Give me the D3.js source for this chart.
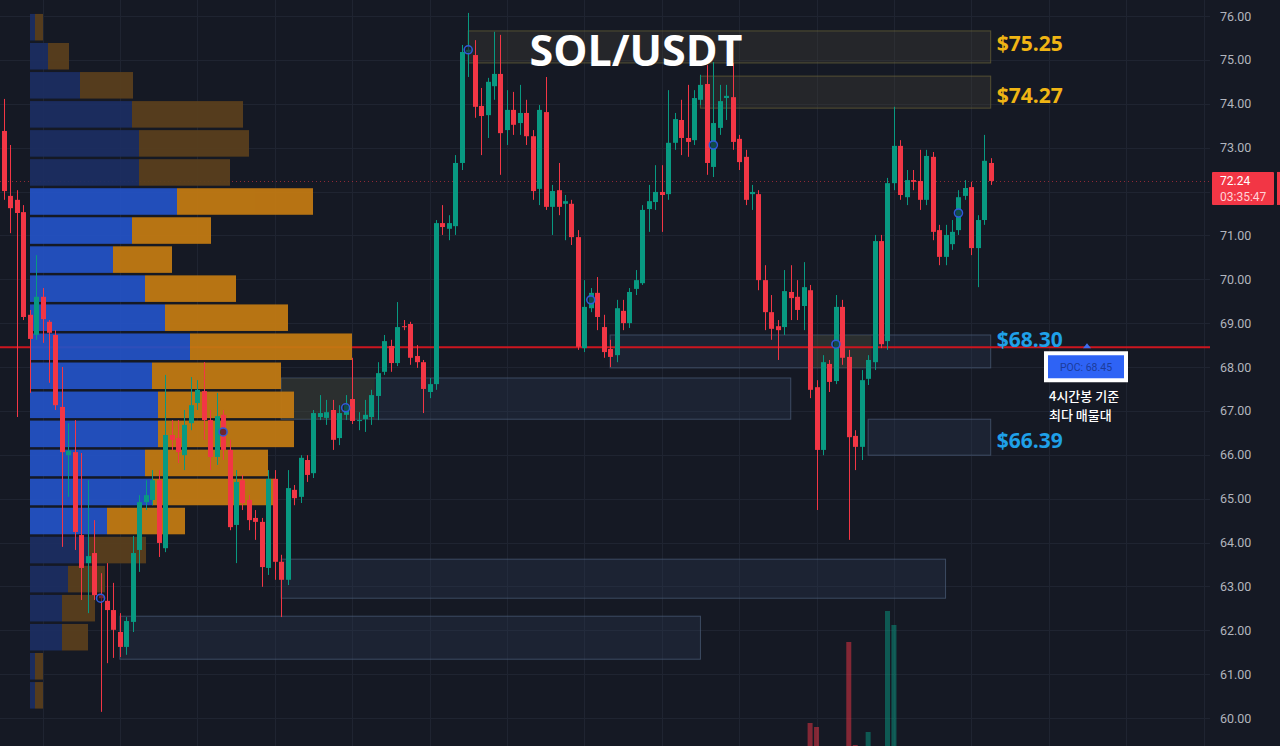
<!DOCTYPE html>
<html>
<head>
<meta charset="utf-8">
<script src="https://cdn.jsdelivr.net/npm/d3@7"></script>
<style>
html, body { margin: 0; padding: 0; background: #151924; overflow: hidden; }
svg { display: block; }
</style>
</head>
<body>
<svg width="1280" height="746"></svg>
<script>
// 4h SOL/USDT candles, oldest first
var opens = [73.38,71.90,71.81,71.53,69.19,68.73,69.60,69.03,68.73,67.09,65.99,66.06,64.17,63.53,63.76,62.80,62.67,62.46,61.96,61.62,
  62.19,63.83,64.92,64.97,65.42,63.87,66.45,66.38,65.99,66.72,67.18,67.45,66.79,65.95,66.91,66.11,64.40,65.42,64.97,64.56,
  64.47,63.42,65.45,63.56,63.15,65.20,65.04,65.88,65.58,66.86,66.84,67.02,66.38,66.91,67.27,66.77,66.81,66.86,67.34,67.89,
  68.48,68.09,68.93,68.98,68.25,68.11,67.43,67.61,71.28,71.15,71.21,72.65,75.18,75.11,73.95,73.74,74.40,74.68,73.40,73.86,
  73.56,73.79,73.26,72.06,73.81,71.65,72.03,71.72,71.72,70.96,68.43,69.34,69.69,68.91,68.41,68.27,69.28,69.00,69.78,69.91,
  71.60,71.76,71.99,71.94,73.11,73.63,73.22,73.17,74.09,74.45,72.56,73.45,74.13,74.15,73.20,72.79,71.94,71.94,69.98,69.25,
  68.93,68.91,69.71,69.60,69.39,69.75,67.54,66.11,68.07,67.68,69.37,68.23,66.43,66.18,67.73,68.11,70.87,68.59,72.19,73.04,
  71.87,72.26,72.24,71.81,72.79,71.12,70.51,70.80,71.12,71.90,72.10,70.71,71.35,72.65];
var highs = [74.11,73.06,72.03,71.69,69.30,70.55,69.80,69.07,68.84,68.00,66.72,66.79,66.04,65.42,64.51,63.30,63.53,63.08,62.39,62.30,
  64.15,65.08,65.42,65.65,65.65,67.82,66.79,66.79,67.02,67.77,67.70,68.11,67.02,67.41,67.02,66.34,65.65,65.54,65.08,64.74,
  64.56,65.65,65.65,63.72,65.65,65.31,65.99,65.99,67.02,67.36,67.25,67.25,67.13,67.36,68.21,66.97,67.25,67.48,68.11,68.73,
  68.62,69.48,69.07,69.03,68.50,68.16,67.75,71.35,71.69,71.46,72.83,75.34,76.07,75.45,74.36,74.59,75.64,75.57,74.31,74.27,
  74.43,74.09,73.40,73.97,74.61,72.15,72.65,71.92,71.81,71.12,69.98,69.80,70.05,69.19,68.62,69.53,69.53,69.80,70.21,71.69,
  72.15,72.60,72.60,74.31,73.79,74.09,74.43,74.31,74.66,74.88,74.95,74.43,74.43,74.93,73.29,72.95,72.15,72.03,70.32,69.64,
  69.07,70.21,70.32,69.98,70.39,69.87,67.70,68.27,68.16,69.64,69.53,68.39,66.56,67.93,68.27,71.01,71.01,72.31,73.93,73.17,
  72.49,72.49,72.95,72.95,72.90,71.24,71.24,71.35,72.03,72.26,72.22,71.46,73.29,72.76];
var lows = [71.81,71.05,66.86,69.07,67.41,68.62,68.55,67.64,67.02,63.90,65.04,63.83,62.69,62.39,62.69,60.14,61.25,61.37,61.39,61.44,
  61.96,63.33,64.74,64.85,63.67,63.78,66.11,65.81,65.65,66.56,67.02,66.34,65.65,65.77,65.88,64.28,63.53,64.74,64.28,64.06,
  62.99,63.26,63.15,62.30,63.03,64.85,64.90,65.38,65.47,66.79,66.68,66.11,66.22,66.79,66.70,66.56,66.52,66.68,66.79,67.82,
  67.89,68.02,68.84,68.05,67.98,66.95,67.29,67.48,71.01,70.89,71.01,72.49,74.61,73.68,72.83,73.22,74.09,72.38,73.06,73.29,
  73.29,73.06,71.81,71.69,71.58,71.01,71.46,70.89,70.78,68.39,68.34,69.25,68.84,68.21,68.00,68.11,68.84,68.89,69.64,69.87,
  71.08,71.58,71.08,71.81,72.95,72.83,72.79,73.06,73.97,72.38,72.33,73.29,73.63,72.95,72.49,71.69,71.58,69.75,68.84,68.62,
  68.16,68.73,69.07,69.07,68.84,67.29,64.74,65.99,67.43,67.61,68.05,64.06,65.65,65.88,67.59,67.93,68.43,68.39,72.03,71.81,
  71.69,72.03,71.58,71.69,70.89,70.32,70.32,70.67,71.01,71.81,70.55,69.82,71.24,72.15];
var closes = [72.01,71.62,71.51,69.14,68.64,69.60,69.09,68.78,67.13,66.06,66.09,64.24,63.42,63.69,62.80,62.73,62.46,62.01,61.62,62.21,
  63.76,64.92,65.08,65.42,63.99,66.45,66.34,66.06,66.68,67.13,67.48,66.79,65.95,66.88,66.11,64.35,65.38,64.90,64.51,64.47,
  63.44,65.45,63.56,63.15,65.24,65.01,65.93,65.54,66.95,66.95,66.97,66.34,66.95,67.13,66.77,66.79,66.91,67.36,67.86,68.59,
  68.09,68.91,68.91,68.21,68.11,67.50,67.61,71.28,71.19,71.28,72.65,75.18,75.23,73.93,73.72,74.50,74.68,73.33,73.86,73.52,
  73.79,73.26,72.01,73.86,71.65,72.01,71.65,71.78,70.96,68.46,69.37,69.69,69.14,68.34,68.23,69.34,69.00,69.71,69.98,71.58,
  71.78,71.99,71.92,73.11,73.65,73.22,73.13,74.13,74.43,72.65,73.56,74.06,74.18,73.13,72.67,71.81,71.99,69.98,69.25,68.87,
  68.84,69.73,69.57,69.30,69.82,67.48,66.11,68.11,67.66,69.37,68.21,66.40,66.18,67.70,68.16,70.87,68.52,72.19,73.04,71.92,
  72.26,72.22,71.81,72.81,71.08,70.51,71.01,71.08,71.87,72.08,70.71,71.35,72.70,72.24];

// visible volume spikes (K SOL)
var volIndex = [125, 126, 131, 132, 134, 137, 138];
var volValue = [230, 190, 1040, 10, 140, 1350, 1210];

// volume profile, rows from top price bin to bottom (K SOL)
var profileTop = 76.07, profileBottom = 60.18;
var profileUp   = [5,18,50,102,109,109,147,102,83,115,135,160,122,128,128,115,122,77,58,38,32,32,5,5];
var profileDown = [8,21,53,111,110,91,136,79,59,91,123,162,129,136,136,123,123,78,58,37,33,26,8,8];
var valueAreaRows = [6, 17];

// supply / demand zones
var zoneFrom = [72, 108, 94, 43, 134, 43, 18];
var zoneTo   = [153, 153, 153, 122, 153, 146, 108];
var zoneHigh = [75.66, 74.63, 68.73, 67.75, 66.81, 63.62, 62.32];
var zoneLow  = [74.93, 73.90, 67.98, 66.81, 65.99, 62.73, 61.34];
var zoneKind = ["supply", "supply", "demand", "demand", "demand", "demand", "demand"];
var tintFrom = [43, 125.5], tintTo = [57.5, 134.5], tintHigh = [67.75, 68.73], tintLow = [66.81, 67.98];

var zoneLabels = ["$75.25", "$74.27", "$68.30", "$66.39"];
var zoneLabelOf = [0, 1, 2, 4];

var markerIndex = [15, 34, 53, 72, 91, 110, 129, 148];
var markerPrice = [62.73, 66.52, 67.07, 75.23, 69.53, 73.06, 68.52, 71.51];

var poc = 68.45, lastPrice = 72.24, countdown = "03:35:47";
var priceTicks = d3.range(60, 77, 1);

var svg = d3.select("svg"),
    width = +svg.attr("width"),
    height = +svg.attr("height"),
    plotRight = 1210;

var up = "#089981", down = "#f23645";

var x = d3.scaleLinear().domain([0, 153]).range([3.8, 990.7]);
var y = d3.scaleLinear().domain([60, 76]).range([718, 16]);
var vy = d3.scaleLinear().domain([0, 1350]).range([height, 611]);
var px = d3.scaleLinear().domain([0, 322]).range([30, 352]);

svg.append("rect").attr("width", width).attr("height", height).attr("fill", "#151924");

// grid
var grid = svg.append("g").attr("stroke", "#1f2431").attr("stroke-width", 1);
grid.selectAll("line.v")
    .data(d3.range(6, 190, 12))
    .enter().append("line")
    .attr("x1", function(d) { return Math.round(x(d)) + 0.5; })
    .attr("x2", function(d) { return Math.round(x(d)) + 0.5; })
    .attr("y1", 0).attr("y2", height);
grid.selectAll("line.h")
    .data(priceTicks)
    .enter().append("line")
    .attr("x1", 0).attr("x2", plotRight)
    .attr("y1", function(d) { return Math.round(y(d)) + 0.5; })
    .attr("y2", function(d) { return Math.round(y(d)) + 0.5; });

// zones
var zones = svg.append("g");
zoneKind.forEach(function(k, i) {
  zones.append("rect")
    .attr("x", x(zoneFrom[i]))
    .attr("y", y(zoneHigh[i]))
    .attr("width", x(zoneTo[i]) - x(zoneFrom[i]))
    .attr("height", y(zoneLow[i]) - y(zoneHigh[i]))
    .attr("fill", k == "supply" ? "rgba(70,68,56,0.32)" : "rgba(42,58,84,0.32)")
    .attr("stroke", k == "supply" ? "rgba(120,112,58,0.6)" : "rgba(80,98,128,0.65)")
    .attr("stroke-width", 1);
});
tintFrom.forEach(function(f, i) {
  zones.append("rect")
    .attr("x", x(f)).attr("y", y(tintHigh[i]))
    .attr("width", x(tintTo[i]) - x(f))
    .attr("height", y(tintLow[i]) - y(tintHigh[i]))
    .attr("fill", "rgba(80,76,40,0.3)");
});

// last price dotted line
svg.append("line")
    .attr("x1", 0).attr("x2", plotRight)
    .attr("y1", Math.round(y(lastPrice)) + 0.5).attr("y2", Math.round(y(lastPrice)) + 0.5)
    .attr("stroke", down).attr("stroke-opacity", 0.55)
    .attr("stroke-dasharray", "1,3");

// POC line
svg.append("line")
    .attr("x1", 0).attr("x2", plotRight)
    .attr("y1", y(poc)).attr("y2", y(poc))
    .attr("stroke", "#cc161f").attr("stroke-width", 2);

// volume profile
var rowStep = (profileTop - profileBottom) / profileUp.length;
var prof = svg.append("g").attr("opacity", 0.93);
profileUp.forEach(function(u, i) {
  var top = profileTop - i * rowStep,
      inVA = i >= valueAreaRows[0] && i <= valueAreaRows[1],
      yy = y(top) + 1,
      hh = y(top - rowStep) - y(top) - 2.5;
  prof.append("rect")
    .attr("x", px(0)).attr("y", yy)
    .attr("width", px(u) - px(0)).attr("height", hh)
    .attr("fill", inVA ? "#2453c6" : "#1c2e62");
  prof.append("rect")
    .attr("x", px(u)).attr("y", yy)
    .attr("width", px(u + profileDown[i]) - px(u)).attr("height", hh)
    .attr("fill", inVA ? "#c47b12" : "#5a3f1d");
});

// volume bars
svg.append("g").selectAll("rect")
    .data(volIndex)
    .enter().append("rect")
    .attr("x", function(d) { return x(d) - 2.5; })
    .attr("width", 5)
    .attr("y", function(d, i) { return vy(volValue[i]); })
    .attr("height", function(d, i) { return height - vy(volValue[i]); })
    .attr("fill", function(d) { return closes[d] >= opens[d] ? up : down; })
    .attr("opacity", 0.5);

// candles
var candle = svg.append("g").selectAll("g")
    .data(d3.range(opens.length))
    .enter().append("g")
    .attr("fill", function(i) { return closes[i] >= opens[i] ? up : down; })
    .attr("stroke", function(i) { return closes[i] >= opens[i] ? up : down; });
candle.append("line")
    .attr("x1", function(i) { return Math.round(x(i)) + 0.5; })
    .attr("x2", function(i) { return Math.round(x(i)) + 0.5; })
    .attr("y1", function(i) { return y(highs[i]); })
    .attr("y2", function(i) { return y(lows[i]); })
    .attr("stroke-width", 1);
candle.append("rect")
    .attr("stroke", "none")
    .attr("x", function(i) { return Math.round(x(i)) - 2; })
    .attr("width", 5)
    .attr("y", function(i) { return y(Math.max(opens[i], closes[i])); })
    .attr("height", function(i) { return Math.max(1, Math.abs(y(opens[i]) - y(closes[i]))); });

// circle markers
svg.append("g").selectAll("circle")
    .data(markerIndex)
    .enter().append("circle")
    .attr("cx", function(d) { return x(d); })
    .attr("cy", function(d, i) { return y(markerPrice[i]); })
    .attr("r", 4)
    .attr("fill", "#151924")
    .attr("fill-opacity", 0.6)
    .attr("stroke", "#2f5bd8")
    .attr("stroke-width", 1.6);

// zone labels
var labelDy = [-3, 4, -12, 3];
zoneLabels.forEach(function(t, k) {
  var z = zoneLabelOf[k];
  svg.append("text")
    .attr("x", x(zoneTo[z]) + 6)
    .attr("y", (y(zoneHigh[z]) + y(zoneLow[z])) / 2 + labelDy[k])
    .attr("dy", "0.35em")
    .attr("font-family", "'Open Sans', sans-serif")
    .attr("font-weight", 700)
    .attr("font-size", 21)
    .attr("fill", zoneKind[z] == "supply" ? "#f0b514" : "#1fa0e8")
    .text(t);
});

// title
svg.append("text")
    .attr("x", 636).attr("y", 66)
    .attr("text-anchor", "middle")
    .attr("font-family", "'Open Sans', sans-serif")
    .attr("font-weight", 700)
    .attr("font-size", 43)
    .attr("fill", "#ffffff")
    .text("SOL/USDT");

// POC callout
var pocY = y(poc);
svg.append("path")
    .attr("d", "M1083," + (pocY + 1) + "L1087," + (pocY - 4) + "L1091," + (pocY + 1) + "Z")
    .attr("fill", "#3d6df0");
svg.append("rect").attr("x", 1044).attr("y", pocY + 4).attr("width", 84).attr("height", 31).attr("fill", "#ffffff");
svg.append("rect").attr("x", 1048).attr("y", pocY + 8).attr("width", 76).attr("height", 23).attr("fill", "#2e63f5");
svg.append("text")
    .attr("x", 1086).attr("y", pocY + 20).attr("dy", "0.35em")
    .attr("text-anchor", "middle")
    .attr("font-family", "Roboto, sans-serif")
    .attr("font-size", 10.5)
    .attr("fill", "#1c3c9c")
    .text("POC: " + d3.format(".2f")(poc));
svg.append("text")
    .attr("x", 1049).attr("y", pocY + 54)
    .attr("font-family", "'Noto Sans CJK KR', sans-serif")
    .attr("font-weight", 500)
    .attr("font-size", 13)
    .attr("fill", "#ffffff")
    .text("4시간봉 기준");
svg.append("text")
    .attr("x", 1049).attr("y", pocY + 73)
    .attr("font-family", "'Noto Sans CJK KR', sans-serif")
    .attr("font-weight", 500)
    .attr("font-size", 13)
    .attr("fill", "#ffffff")
    .text("최다 매물대");

// price axis (the tick hidden under the last-price tag is left out)
var lpY = y(lastPrice);
var axis = svg.append("g")
    .attr("transform", "translate(1212,0)")
    .call(d3.axisRight(y)
      .tickValues(priceTicks.filter(function(t) { return Math.abs(y(t) - lpY - 7) > 20; }))
      .tickFormat(d3.format(".2f")).tickSize(0).tickPadding(8));
axis.select(".domain").remove();
axis.selectAll("text")
    .attr("font-family", "Roboto, sans-serif")
    .attr("font-size", 12.5)
    .attr("fill", "#b2b5be");

// last price tag
svg.append("rect").attr("x", 1212).attr("y", lpY - 9).attr("width", 62).attr("height", 33).attr("fill", down).attr("rx", 1);
svg.append("rect").attr("x", 1277).attr("y", lpY - 9).attr("width", 6).attr("height", 33).attr("fill", down);
svg.append("text")
    .attr("x", 1220).attr("y", lpY + 4)
    .attr("font-family", "Roboto, sans-serif").attr("font-size", 12)
    .attr("fill", "#ffffff")
    .text(d3.format(".2f")(lastPrice));
svg.append("text")
    .attr("x", 1220).attr("y", lpY + 20)
    .attr("font-family", "Roboto, sans-serif").attr("font-size", 12)
    .attr("fill", "#ffd3d8")
    .text(countdown);
</script>
</body>
</html>
